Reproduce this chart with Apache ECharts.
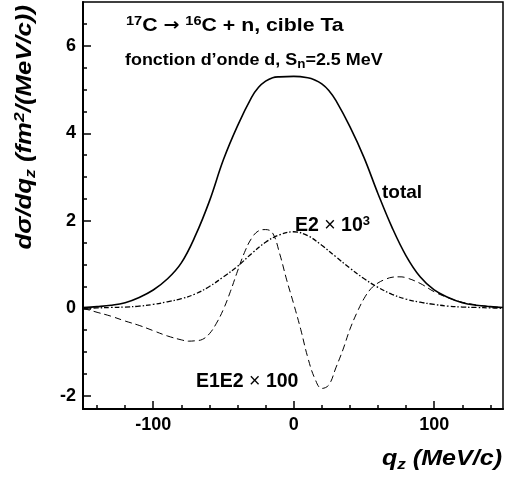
<!DOCTYPE html>
<html>
<head>
<meta charset="utf-8">
<script src="https://cdn.jsdelivr.net/npm/echarts@6/dist/echarts.min.js"></script>
<style>
html,body{margin:0;padding:0;background:#fff;}
#c{width:505px;height:481px;}
</style>
</head>
<body>
<div id="c"></div>
<script>
// ---- data ----
const qTotal = [-150,-140,-130,-120,-110,-100,-90,-80,-70,-60,-50,-40,-30,-25,-20,-15,-10,0,10,15,20,25,30,40,50,60,70,80,90,100,110,120,130,140,149];
const total  = [0.02,0.04,0.07,0.13,0.25,0.42,0.67,1.04,1.66,2.45,3.40,4.17,4.82,5.05,5.19,5.27,5.29,5.30,5.27,5.22,5.13,4.98,4.75,4.15,3.45,2.62,1.85,1.20,0.72,0.42,0.25,0.13,0.07,0.04,0.02];

const qE1E2 = [-150,-140,-130,-120,-110,-100,-90,-80,-75,-70,-65,-60,-55,-50,-45,-40,-35,-30,-25,-20,-15,-10,-5,0,5,10,15,20,25,30,35,40,45,50,55,60,65,70,75,80,90,100,110,120,130,140,149];
const e1e2  = [0.0,-0.09,-0.18,-0.29,-0.39,-0.51,-0.63,-0.72,-0.75,-0.74,-0.71,-0.58,-0.34,-0.02,0.39,0.85,1.28,1.60,1.77,1.80,1.72,1.25,0.65,0.10,-0.48,-1.12,-1.60,-1.83,-1.75,-1.36,-0.95,-0.48,-0.10,0.22,0.45,0.58,0.66,0.71,0.72,0.70,0.57,0.38,0.24,0.14,0.08,0.04,0.02];

const qE2 = [-150,-140,-130,-120,-110,-100,-90,-80,-70,-60,-50,-40,-30,-20,-10,0,10,20,30,40,50,60,70,80,90,100,110,120,130,140,149];
const e2  = [0.0,0.01,0.02,0.03,0.05,0.09,0.15,0.22,0.33,0.50,0.72,0.96,1.25,1.51,1.68,1.75,1.66,1.44,1.18,0.92,0.68,0.48,0.32,0.21,0.14,0.09,0.05,0.03,0.02,0.01,0.0];

const xMajorTicks = [-100, 0, 100];
const xMinorTicks = [-140,-120,-100,-80,-60,-40,-20,0,20,40,60,80,100,120,140];
const yMajorTicks = [-2, 0, 2, 4, 6];
const yMinorTicks = [-2,-1.5,-1,-0.5,0,0.5,1,1.5,2,2.5,3,3.5,4,4.5,5,5.5,6,6.5];

const zip = (a, b) => a.map((v, i) => [v, b[i]]);

const FONT = '"Liberation Sans", Arial, Helvetica, sans-serif';
const BLACK = '#000';

function axisCommon(extra) {
  return Object.assign({
    type: 'value',
    splitLine: { show: false },
    axisLine: { show: true, onZero: false, lineStyle: { color: BLACK, width: 2 } },
  }, extra);
}

const chart = echarts.init(document.getElementById('c'), null, { renderer: 'canvas' });
chart.setOption({
  animation: false,
  backgroundColor: '#fff',
  textStyle: { fontFamily: FONT },
  grid: { left: 83, top: 2, width: 420, height: 407, show: true, borderColor: BLACK, borderWidth: 1.5, backgroundColor: 'transparent' },
  xAxis: [
    axisCommon({
      min: -150, max: 149, position: 'bottom',
      axisTick: { show: true, inside: true, length: 8, lineStyle: { color: BLACK, width: 1.5 }, customValues: xMajorTicks },
      axisLabel: { show: true, customValues: xMajorTicks, color: BLACK, fontFamily: FONT, fontWeight: 'bold', fontSize: 18, margin: 7 }
    }),
    axisCommon({
      min: -150, max: 149, position: 'bottom',
      axisLine: { show: false, onZero: false },
      axisTick: { show: true, inside: true, length: 4, lineStyle: { color: BLACK, width: 1.5 }, customValues: xMinorTicks },
      axisLabel: { show: false }
    })
  ],
  yAxis: [
    axisCommon({
      min: -2.3, max: 7, position: 'left',
      axisTick: { show: true, inside: true, length: 8, lineStyle: { color: BLACK, width: 1.5 }, customValues: yMajorTicks },
      axisLabel: { show: true, customValues: yMajorTicks, color: BLACK, fontFamily: FONT, fontWeight: 'bold', fontSize: 18, margin: 7 }
    }),
    axisCommon({
      min: -2.3, max: 7, position: 'left',
      axisLine: { show: false, onZero: false },
      axisTick: { show: true, inside: true, length: 4, lineStyle: { color: BLACK, width: 1.5 }, customValues: yMinorTicks },
      axisLabel: { show: false }
    })
  ],
  series: [
    { name: 'total', type: 'line', data: zip(qTotal, total), showSymbol: false, smooth: 0.4,
      lineStyle: { color: BLACK, width: 1.6, type: 'solid' } },
    { name: 'E1E2x100', type: 'line', data: zip(qE1E2, e1e2), showSymbol: false, smooth: 0.4,
      lineStyle: { color: BLACK, width: 1, type: [7, 4] } },
    { name: 'E2x1000', type: 'line', data: zip(qE2, e2), showSymbol: false, smooth: 0.4,
      lineStyle: { color: BLACK, width: 1.3, type: [5, 2, 1.5, 2] } }
  ],
  graphic: [
    { type: 'text', x: 126, y: 26, scaleX: 1.12,
      style: { text: '{sup|17}{b|C }{arr|→}{b| }{sup|16}{b|C + n, cible Ta}', align: 'left', verticalAlign: 'middle', fill: BLACK,
        rich: {
          b: { fontFamily: FONT, fontWeight: 'bold', fontSize: 19, lineHeight: 23, fill: BLACK },
          arr: { fontFamily: '"DejaVu Sans"', fontWeight: 'bold', fontSize: 17, lineHeight: 23, fill: BLACK },
          sup: { fontFamily: FONT, fontWeight: 'bold', fontSize: 13, lineHeight: 12, verticalAlign: 'top', fill: BLACK }
        } } },
    { type: 'text', x: 125, y: 61, scaleX: 1.12,
      style: { text: '{b|fonction d’onde d, S}{sub|n}{b|=2.5 MeV}', align: 'left', verticalAlign: 'middle', fill: BLACK,
        rich: {
          b: { fontFamily: FONT, fontWeight: 'bold', fontSize: 16, lineHeight: 19, fill: BLACK },
          sub: { fontFamily: FONT, fontWeight: 'bold', fontSize: 12, lineHeight: 10, verticalAlign: 'bottom', fill: BLACK }
        } } },
    { type: 'text', x: 382, y: 193,
      style: { text: 'total', align: 'left', verticalAlign: 'middle', fill: BLACK,
        fontFamily: FONT, fontWeight: 'bold', fontSize: 19 } },
    { type: 'text', x: 295, y: 226,
      style: { text: '{b|E2 }{x|×}{b| 10}{sup|3}', align: 'left', verticalAlign: 'middle', fill: BLACK,
        rich: {
          b: { fontFamily: FONT, fontWeight: 'bold', fontSize: 19.5, lineHeight: 23, fill: BLACK },
          x: { fontFamily: FONT, fontWeight: 'normal', fontSize: 19.5, lineHeight: 23, fill: BLACK },
          sup: { fontFamily: FONT, fontWeight: 'bold', fontSize: 13, lineHeight: 12, verticalAlign: 'top', fill: BLACK }
        } } },
    { type: 'text', x: 196, y: 382,
      style: { text: '{b|E1E2 }{x|×}{b| 100}', align: 'left', verticalAlign: 'middle', fill: BLACK,
        rich: {
          b: { fontFamily: FONT, fontWeight: 'bold', fontSize: 19.5, lineHeight: 23, fill: BLACK },
          x: { fontFamily: FONT, fontWeight: 'normal', fontSize: 19.5, lineHeight: 23, fill: BLACK }
        } } },
    { type: 'text', x: 502, y: 459, scaleX: 1.14, originX: 0, originY: 0,
      style: { text: '{b|q}{sub|z}{b| (MeV/c)}', align: 'right', verticalAlign: 'middle', fill: BLACK,
        rich: {
          b: { fontFamily: FONT, fontWeight: 'bold', fontStyle: 'italic', fontSize: 22, lineHeight: 26, fill: BLACK },
          sub: { fontFamily: FONT, fontWeight: 'bold', fontStyle: 'italic', fontSize: 15, lineHeight: 13, verticalAlign: 'bottom', fill: BLACK }
        } } },
    { type: 'text', x: 25, y: 5, rotation: Math.PI / 2, scaleX: 1.17,
      style: { text: '{b|dσ/dq}{sub|z}{b| (fm}{sup|2}{b|/(MeV/c))}', align: 'right', verticalAlign: 'middle', fill: BLACK,
        rich: {
          b: { fontFamily: FONT, fontWeight: 'bold', fontStyle: 'italic', fontSize: 22, lineHeight: 26, fill: BLACK },
          sub: { fontFamily: FONT, fontWeight: 'bold', fontStyle: 'italic', fontSize: 15, lineHeight: 13, verticalAlign: 'bottom', fill: BLACK },
          sup: { fontFamily: FONT, fontWeight: 'bold', fontStyle: 'italic', fontSize: 15, lineHeight: 13, verticalAlign: 'top', fill: BLACK }
        } } }
  ]
});
</script>
</body>
</html>
